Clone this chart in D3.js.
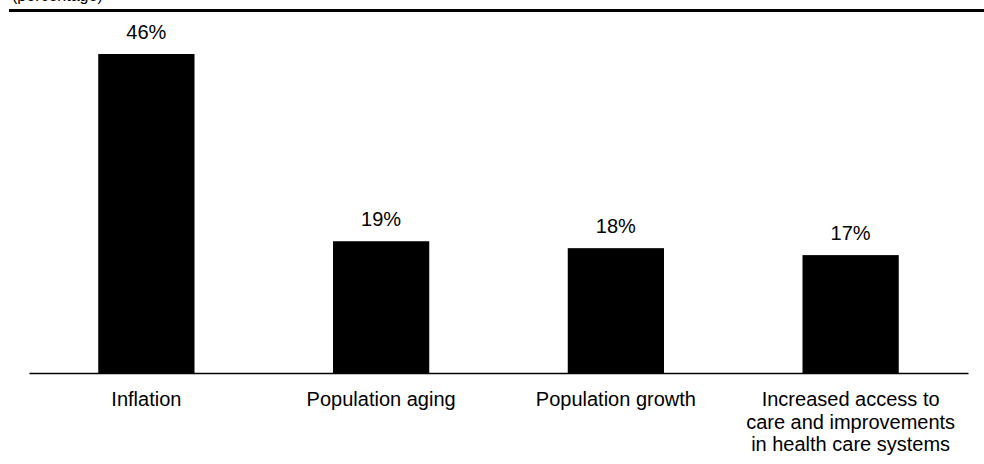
<!DOCTYPE html>
<html>
<head>
<meta charset="utf-8">
<script src="https://cdn.jsdelivr.net/npm/d3@7"></script>
<style>
  html, body { margin: 0; padding: 0; background: #fff; }
  svg { display: block; font-family: "Liberation Sans", Arial, sans-serif; }
</style>
</head>
<body>
<svg id="chart" width="984" height="464"></svg>
<script>
// Share of growth in health spending attributed to each driver (percent)
const categories = [
  ["Inflation"],
  ["Population aging"],
  ["Population growth"],
  ["Increased access to", "care and improvements", "in health care systems"]
];
const values = [46, 19, 18, 17];
const valueLabels = ["46%", "19%", "18%", "17%"];
const unitLabel = "(percentage)";

const svg = d3.select("#chart");
const W = 984, H = 464;
const baseY = 373;
const fs = 20;

const x = d3.scaleBand()
  .domain(d3.range(categories.length))
  .range([29, 968])
  .paddingInner(0.59)
  .paddingOuter(0.295);

const y = d3.scaleLinear()
  .domain([0, 46])
  .range([baseY, 54]);

// Unit note, clipped by the top edge
svg.append("text")
  .attr("x", 12)
  .attr("y", 0.5)
  .attr("font-size", 16)
  .attr("fill", "#000")
  .text(unitLabel);

// Heavy rule under the title area
svg.append("rect")
  .attr("x", 9)
  .attr("y", 9)
  .attr("width", W - 9)
  .attr("height", 3)
  .attr("fill", "#000");

// Bars
svg.append("g")
  .selectAll("rect")
  .data(values)
  .join("rect")
  .attr("x", (d, i) => x(i))
  .attr("y", d => y(d))
  .attr("width", x.bandwidth())
  .attr("height", d => baseY - y(d))
  .attr("fill", "#000");

// Value labels above bars
svg.append("g")
  .selectAll("text")
  .data(values)
  .join("text")
  .attr("x", (d, i) => x(i) + x.bandwidth() / 2)
  .attr("y", d => y(d) - 15)
  .attr("text-anchor", "middle")
  .attr("font-size", fs)
  .attr("fill", "#000")
  .text((d, i) => valueLabels[i]);

// Category axis: baseline only, no ticks
const xAxis = d3.axisBottom(x).tickSize(0).tickFormat("");
const axisG = svg.append("g")
  .attr("transform", `translate(0,${baseY})`)
  .call(xAxis);
axisG.select(".domain").attr("stroke", "#000").attr("stroke-width", 1.3);

// Category labels, possibly on several lines
const catG = svg.append("g");
categories.forEach((lines, i) => {
  const t = catG.append("text")
    .attr("x", x(i) + x.bandwidth() / 2)
    .attr("y", 406)
    .attr("text-anchor", "middle")
    .attr("font-size", fs)
    .attr("fill", "#000");
  lines.forEach((ln, j) => {
    t.append("tspan")
      .attr("x", x(i) + x.bandwidth() / 2)
      .attr("dy", j === 0 ? 0 : 22.5)
      .text(ln);
  });
});
</script>
</body>
</html>
